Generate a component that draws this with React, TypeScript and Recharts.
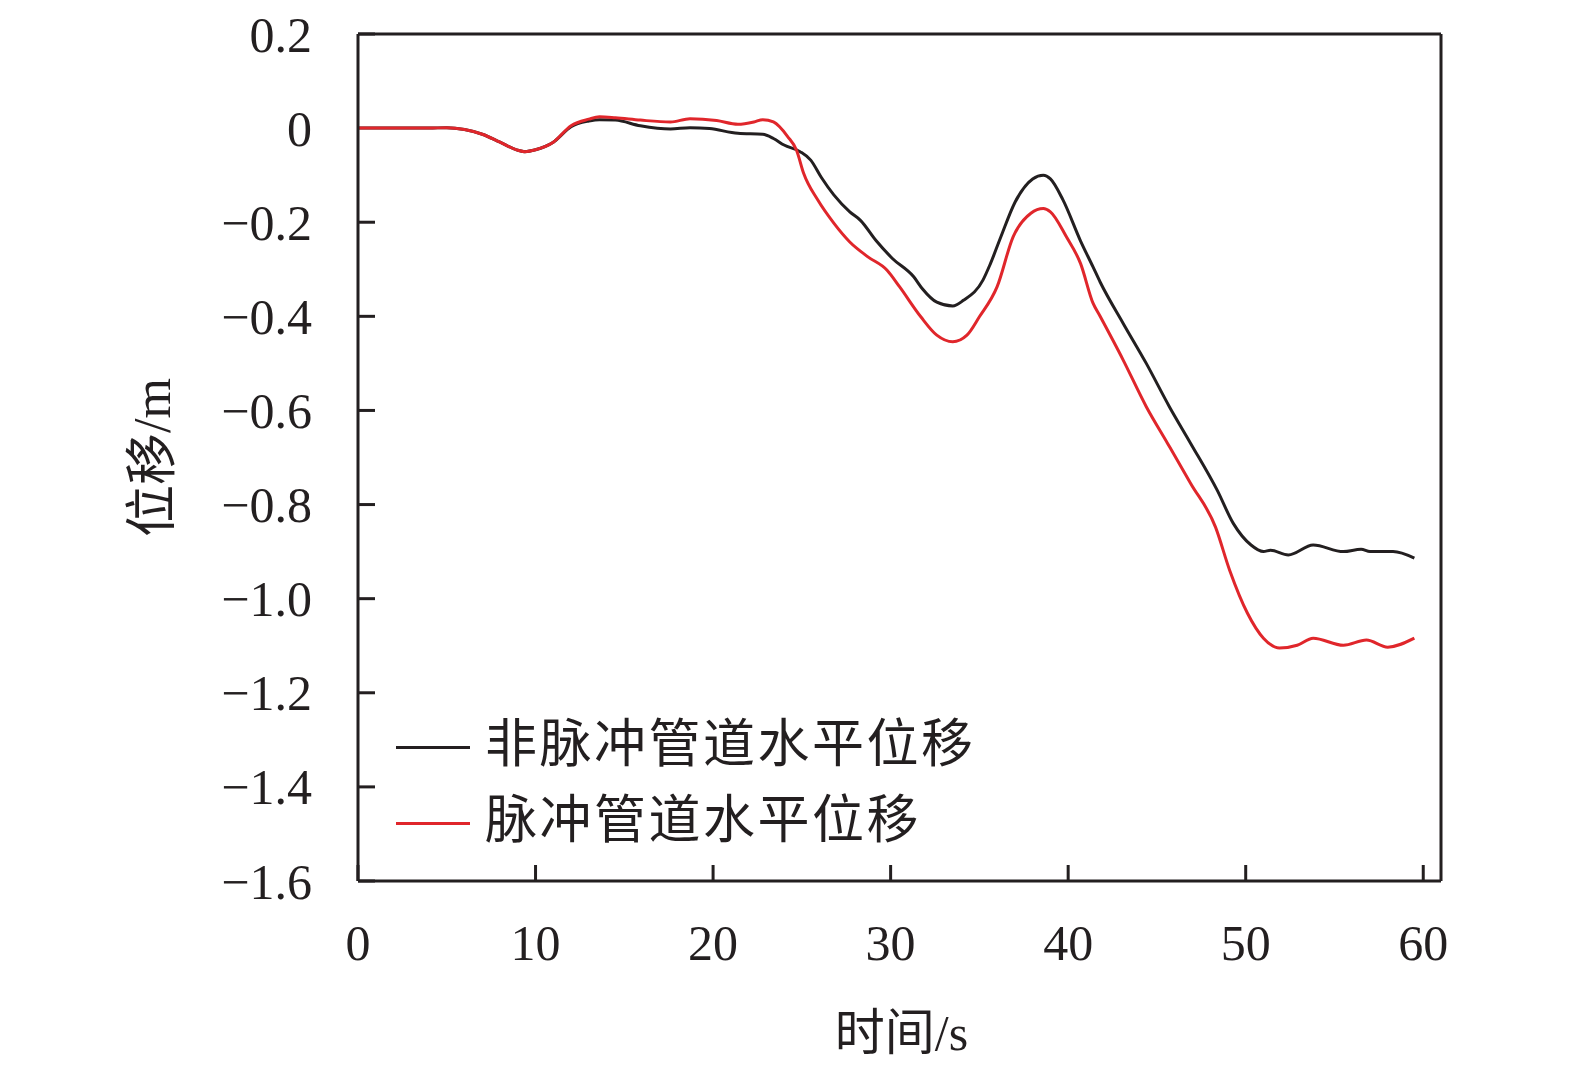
import { LineChart, Line, XAxis, YAxis, ReferenceLine, Legend } from 'recharts'

// time (s) and horizontal displacement (m)
const timeNonPulse = [
  0, 2, 4, 5, 6, 7, 8, 9, 9.4, 10, 11, 12, 13, 13.6, 14.5, 15.9, 17.6, 18.7, 19.8, 21.4,
  22.8, 23.4, 24, 24.9, 25.5, 26.1, 26.8, 27.7, 28.3, 29.2, 30.1, 31.3, 31.8, 32.6, 33.5,
  34.1, 35.2, 35.6, 36.2, 37, 38, 38.6, 39, 39.7, 40.7, 41.4, 41.8, 43.1, 44.4, 45.7,
  46.9, 48.4, 49.3, 50.3, 51, 51.4, 52.4, 53.8, 55.5, 56.5, 57, 58.3, 59.5,
]
const dispNonPulse = [
  0, 0, 0, 0.001, -0.003, -0.013, -0.03, -0.047, -0.05, -0.046, -0.03, 0.003, 0.015, 0.018,
  0.017, 0.005, -0.002, 0.001, -0.001, -0.011, -0.013, -0.022, -0.036, -0.05, -0.068,
  -0.105, -0.142, -0.178, -0.196, -0.24, -0.277, -0.316, -0.342, -0.37, -0.378, -0.366,
  -0.323, -0.29, -0.232, -0.158, -0.108, -0.1, -0.108, -0.152, -0.24, -0.295, -0.327,
  -0.415, -0.5, -0.592, -0.67, -0.77, -0.84, -0.886, -0.9, -0.897, -0.907, -0.886, -0.9,
  -0.895, -0.9, -0.9, -0.914,
]

const timePulse = [
  0, 2, 4, 5, 6, 7, 8, 9, 9.4, 10, 11, 12, 13, 13.6, 14.5, 15.9, 17.6, 18.7, 20.2, 21.4,
  22.3, 22.8, 23.4, 24.2, 24.7, 25.1, 25.9, 26.8, 27.7, 28.7, 29.8, 30.5, 31.7, 32.6, 33.5,
  34.3, 35, 36, 36.9, 37.9, 38.6, 39, 39.9, 40.7, 41.4, 41.8, 43.1, 44.4, 45.6, 46.9, 48.3,
  49.1, 50.1, 51, 51.9, 52.9, 53.8, 55.5, 56.8, 58, 59.5,
]
const dispPulse = [
  0, 0, 0, 0.001, -0.003, -0.013, -0.03, -0.047, -0.05, -0.046, -0.03, 0.005, 0.019, 0.024,
  0.022, 0.017, 0.013, 0.02, 0.016, 0.008, 0.013, 0.018, 0.013, -0.018, -0.047, -0.096,
  -0.153, -0.202, -0.242, -0.273, -0.302, -0.337, -0.401, -0.44, -0.454, -0.44, -0.401,
  -0.337, -0.231, -0.181, -0.171, -0.178, -0.231, -0.288, -0.372, -0.4, -0.493, -0.592,
  -0.67, -0.755, -0.848, -0.94, -1.031, -1.084, -1.105, -1.099, -1.084, -1.099, -1.088,
  -1.103, -1.084,
]

const seriesNames = ['非脉冲管道水平位移', '脉冲管道水平位移']
const xTicks = [0, 10, 20, 30, 40, 50, 60]
const yTicks = [0.2, 0, -0.2, -0.4, -0.6, -0.8, -1.0, -1.2, -1.4, -1.6]

const nonPulseData = timeNonPulse.map((t, i) => ({ t, v: dispNonPulse[i] }))
const pulseData = timePulse.map((t, i) => ({ t, v: dispPulse[i] }))

const INK = '#231f20'
const RED = '#e0262b'
const NUM_FONT = '"Liberation Serif", "Times New Roman", serif'
const CJK_FONT = '"Liberation Serif", "Noto Sans CJK SC", serif'

const fmtY = (v: number) => {
  if (Math.abs(v) < 1e-9) return '0'
  return (v < 0 ? '\u2212' : '') + Math.abs(v).toFixed(1)
}

// ticks point inward, labels sit outside
const XTick = ({ x, y, payload }: any) => (
  <g>
    <line x1={x} y1={y} x2={x} y2={y - 16} stroke={INK} strokeWidth={3} />
    <text x={x} y={y + 61} dy="0.35em" textAnchor="middle" fill={INK} fontSize={50} fontFamily={NUM_FONT}>
      {payload.value}
    </text>
  </g>
)

const YTick = ({ x, y, payload }: any) => (
  <g>
    {/* the zero tick is hidden under the curves in the original */}
    {Math.abs(payload.value) > 1e-9 && (
      <line x1={x} y1={y} x2={x + 17} y2={y} stroke={INK} strokeWidth={3} />
    )}
    <text x={x - 46} y={y} dy="0.35em" textAnchor="end" fill={INK} fontSize={50} fontFamily={NUM_FONT}>
      {fmtY(payload.value)}
    </text>
  </g>
)

const LegendBox = ({ payload }: any) => {
  const items = [...(payload || [])].sort(
    (a: any, b: any) => seriesNames.indexOf(a.value) - seriesNames.indexOf(b.value)
  )
  return (
    <div>
      {items.map((p: any) => (
        <div key={p.value} style={{ display: 'flex', alignItems: 'center', height: 76 }}>
          <div style={{ width: 74, height: 3, background: p.color, marginTop: 4 }} />
          <span
            style={{
              marginLeft: 15,
              fontSize: 52,
              letterSpacing: 2.5,
              color: INK,
              fontFamily: CJK_FONT,
              lineHeight: '76px',
            }}
          >
            {p.value}
          </span>
        </div>
      ))}
    </div>
  )
}

export default function App() {
  return (
    <div style={{ position: 'absolute', left: 0, top: 0, width: 1575, height: 1073, background: '#fff' }}>
      <LineChart width={1575} height={1073} margin={{ top: 34, right: 134, bottom: 132, left: 258 }}>
        <XAxis
          type="number"
          dataKey="t"
          domain={[0, 61]}
          ticks={xTicks}
          allowDataOverflow
          height={60}
          tickSize={0}
          tickMargin={0}
          tickLine={false}
          tick={<XTick />}
          axisLine={{ stroke: INK, strokeWidth: 3 }}
          label={{
            content: ({ viewBox }: any) => (
              <text
                x={viewBox.x + viewBox.width / 2 + 2}
                y={viewBox.y + 151}
                dy="0.35em"
                textAnchor="middle"
                fill={INK}
                fontSize={50}
                fontFamily={CJK_FONT}
              >
                时间/s
              </text>
            ),
          }}
        />
        <YAxis
          type="number"
          domain={[-1.6, 0.2]}
          ticks={yTicks}
          allowDataOverflow
          width={100}
          tickSize={0}
          tickMargin={0}
          tickLine={false}
          tick={<YTick />}
          axisLine={{ stroke: INK, strokeWidth: 3 }}
          label={{
            content: ({ viewBox }: any) => {
              const cx = viewBox.x + viewBox.width - 206
              const cy = viewBox.y + viewBox.height / 2
              return (
                <text
                  x={cx}
                  y={cy}
                  dy="0.35em"
                  textAnchor="middle"
                  transform={`rotate(-90 ${cx} ${cy})`}
                  fill={INK}
                  fontSize={52}
                  fontFamily={CJK_FONT}
                >
                  位移/m
                </text>
              )
            },
          }}
        />
        {/* closing frame: top and right edges */}
        <ReferenceLine y={0.2} stroke={INK} strokeWidth={3} ifOverflow="visible" />
        <ReferenceLine x={61} stroke={INK} strokeWidth={3} ifOverflow="visible" />
        <Legend
          layout="vertical"
          align="center"
          verticalAlign="middle"
          content={<LegendBox />}
          wrapperStyle={{ left: 396, top: 707, width: 'auto' }}
        />
        <Line
          data={nonPulseData}
          dataKey="v"
          name={seriesNames[0]}
          type="monotone"
          stroke={INK}
          strokeWidth={3}
          dot={false}
          isAnimationActive={false}
        />
        <Line
          data={pulseData}
          dataKey="v"
          name={seriesNames[1]}
          type="monotone"
          stroke={RED}
          strokeWidth={3}
          dot={false}
          isAnimationActive={false}
        />
      </LineChart>
    </div>
  )
}
